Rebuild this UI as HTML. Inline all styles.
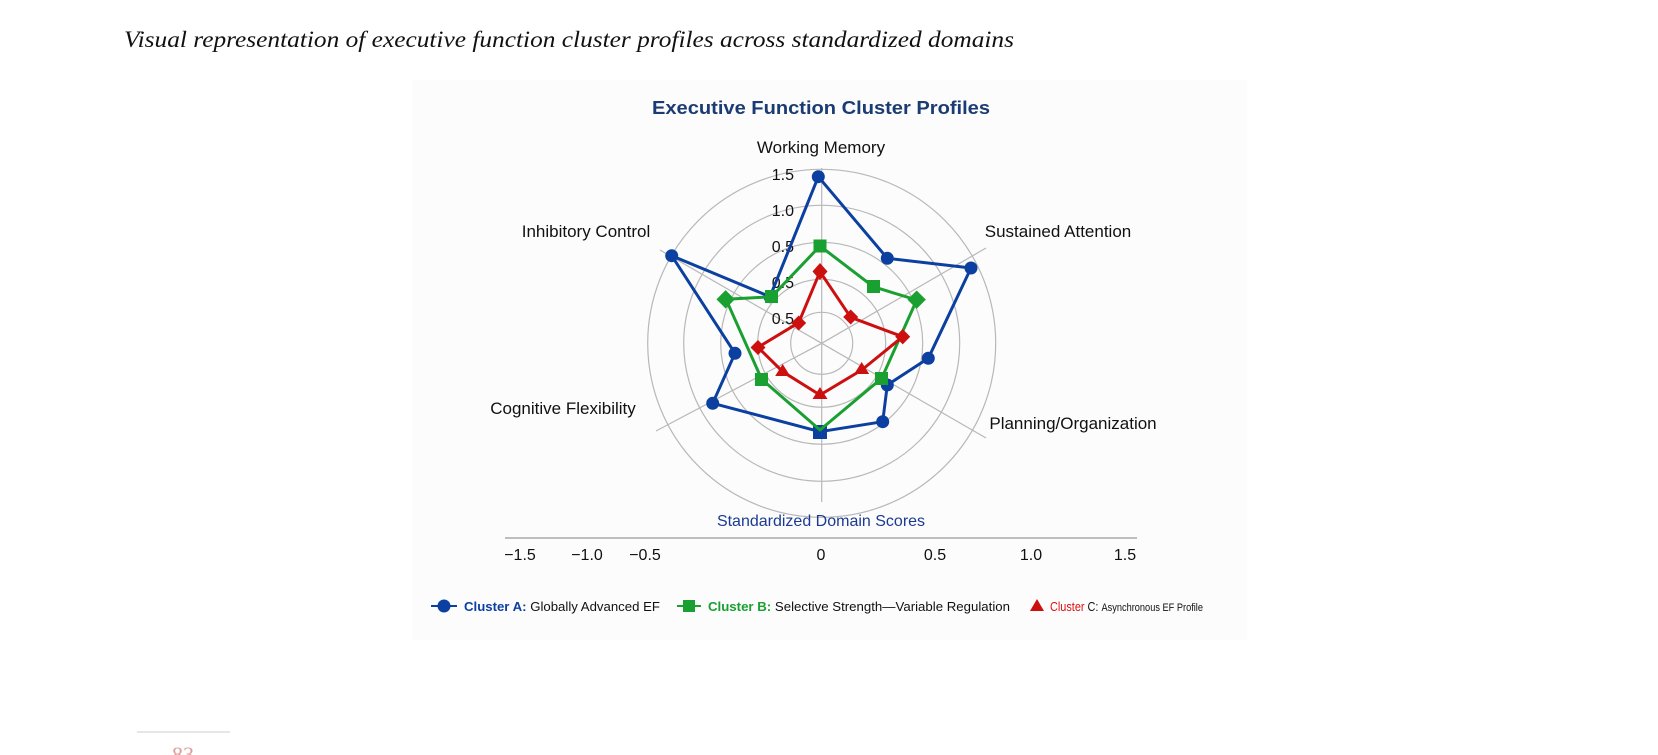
<!DOCTYPE html>
<html><head><meta charset="utf-8"><style>
html,body{margin:0;padding:0;background:#fff;width:1658px;height:755px;overflow:hidden}
svg{display:block}
text{font-family:"Liberation Sans","DejaVu Sans",sans-serif}
</style></head><body>
<svg width="1658" height="755" viewBox="0 0 1658 755" xmlns="http://www.w3.org/2000/svg">
<rect x="412" y="80" width="835" height="560" fill="#fcfcfc"/>
<text x="124" y="47" font-family="Liberation Serif" font-style="italic" font-size="23" fill="#111" textLength="890" lengthAdjust="spacingAndGlyphs" style="font-family:'Liberation Serif',serif">Visual representation of executive function cluster profiles across standardized domains</text>
<text x="821" y="114" text-anchor="middle" font-size="18" font-weight="bold" fill="#1b3b73" textLength="338" lengthAdjust="spacingAndGlyphs">Executive Function Cluster Profiles</text>
<g fill="none" stroke="#b8b8b8" stroke-width="1.2">
<circle cx="821.7" cy="343.3" r="31"/><circle cx="821.7" cy="343.3" r="64"/><circle cx="821.7" cy="343.3" r="101"/><circle cx="821.7" cy="343.3" r="138"/><circle cx="821.7" cy="343.3" r="174"/>
<line x1="821.7" y1="343.3" x2="821.7" y2="168"/>
<line x1="821.7" y1="343.3" x2="821.7" y2="502"/>
<line x1="821.7" y1="343.3" x2="986" y2="248"/>
<line x1="821.7" y1="343.3" x2="986" y2="438"/>
<line x1="821.7" y1="343.3" x2="656" y2="431"/>
<line x1="821.7" y1="343.3" x2="660" y2="250"/>
</g>
<g font-size="17" fill="#111" text-anchor="middle">
<text x="821" y="153">Working Memory</text>
<text x="1058" y="237">Sustained Attention</text>
<text x="586" y="237">Inhibitory Control</text>
<text x="563" y="414">Cognitive Flexibility</text>
<text x="1073" y="429">Planning/Organization</text>
</g>
<g font-size="16" fill="#111" text-anchor="end">
<text x="794" y="180">1.5</text><text x="794" y="216">1.0</text><text x="794" y="252">0.5</text><text x="794" y="288">0.5</text><text x="794" y="324">0.5</text>
</g>
<polyline fill="none" stroke="#0b3fa0" stroke-width="3" stroke-linejoin="round" points="818.3,176.7 887.3,258.3 971,268 928.3,358.3 887.3,385 882.7,421.7 820,431.7 712.7,403.3 735,353.3 671.7,255.7 770,296.7 818.3,176.7"/>
<g fill="#0b3fa0">
<circle cx="818.3" cy="176.7" r="6.5"/><circle cx="887.3" cy="258.3" r="6.5"/><circle cx="971" cy="268" r="6.5"/><circle cx="928.3" cy="358.3" r="6.5"/><circle cx="887.3" cy="385" r="6.5"/><circle cx="882.7" cy="421.7" r="6.5"/><rect x="813" y="425" width="14" height="14"/><circle cx="712.7" cy="403.3" r="6.5"/><circle cx="735" cy="353.3" r="6.5"/><circle cx="671.7" cy="255.7" r="6.5"/><circle cx="770" cy="296.7" r="6.5"/>
</g>
<polyline fill="none" stroke="#19a030" stroke-width="3" stroke-linejoin="round" points="820,246 873.3,286.7 916.7,300 881.7,378.3 820,430 761.7,379.3 726,299.3 771.7,296.7 820,246"/>
<g fill="#19a030">
<rect x="813.5" y="239.5" width="13" height="13"/><rect x="867" y="280" width="13" height="13"/><rect x="910" y="293.5" width="13" height="13" transform="rotate(45 917 300)"/><rect x="875" y="372" width="13" height="13"/><rect x="755" y="373" width="13" height="13"/><rect x="719.5" y="293" width="13" height="13" transform="rotate(45 726 299)"/><rect x="765" y="290" width="13" height="13"/>
</g>
<polyline fill="none" stroke="#cc1010" stroke-width="3" stroke-linejoin="round" points="820,271.7 850.7,317.3 902.7,336.7 861.7,370 820,395 782.7,371.7 758,347.3 798.7,322.7 820,271.7"/>
<g fill="#cc1010">
<path d="M820,263 l7.5,8.5 -7.5,8.5 -7.5,-8.5z"/><path d="M850.7,309.5 l7.5,7.5 -7.5,7.5 -7.5,-7.5z"/><path d="M902.7,329 l7.5,7.7 -7.5,7.7 -7.5,-7.7z"/><path d="M861.7,362 l7.5,12 h-15z"/><path d="M820,387 l7.5,12 h-15z"/><path d="M782.7,364 l7.5,12 h-15z"/><path d="M758,340 l7.5,7.5 -7.5,7.5 -7.5,-7.5z"/><path d="M798.7,315.5 l7.5,7.5 -7.5,7.5 -7.5,-7.5z"/>
</g>
<text x="821" y="526" text-anchor="middle" font-size="16" fill="#1b3b93">Standardized Domain Scores</text>
<line x1="505" y1="538" x2="1137" y2="538" stroke="#999" stroke-width="1.2"/>
<g font-size="16" fill="#111" text-anchor="middle">
<text x="520" y="560">−1.5</text><text x="587" y="560">−1.0</text><text x="645" y="560">−0.5</text><text x="821" y="560">0</text><text x="935" y="560">0.5</text><text x="1031" y="560">1.0</text><text x="1125" y="560">1.5</text>
</g>
<g font-size="13">
<line x1="431" y1="606" x2="457" y2="606" stroke="#0b3fa0" stroke-width="2"/><circle cx="444" cy="606" r="6.5" fill="#0b3fa0"/>
<text x="464" y="611" fill="#111" textLength="196" lengthAdjust="spacingAndGlyphs"><tspan fill="#0b3fa0" font-weight="bold">Cluster A:</tspan> Globally Advanced EF</text>
<line x1="677" y1="606" x2="701" y2="606" stroke="#19a030" stroke-width="2"/><rect x="683" y="600" width="12" height="12" fill="#19a030"/>
<text x="708" y="611" fill="#111" textLength="302" lengthAdjust="spacingAndGlyphs"><tspan fill="#19a030" font-weight="bold">Cluster B:</tspan> Selective Strength—Variable Regulation</text>
<path d="M1037,599 l7,12 h-14z" fill="#cc1010"/>
<text x="1050" y="611" fill="#111" textLength="153" lengthAdjust="spacingAndGlyphs"><tspan fill="#dd1010">Cluster</tspan> C: <tspan font-size="11">Asynchronous EF Profile</tspan></text>
</g>
<line x1="137" y1="732" x2="230" y2="732" stroke="#ccc" stroke-width="1"/>
<text x="183" y="762" text-anchor="middle" font-size="22" fill="#e09a9a" style="font-family:'Liberation Serif',serif">83</text>
</svg>
</body></html>
